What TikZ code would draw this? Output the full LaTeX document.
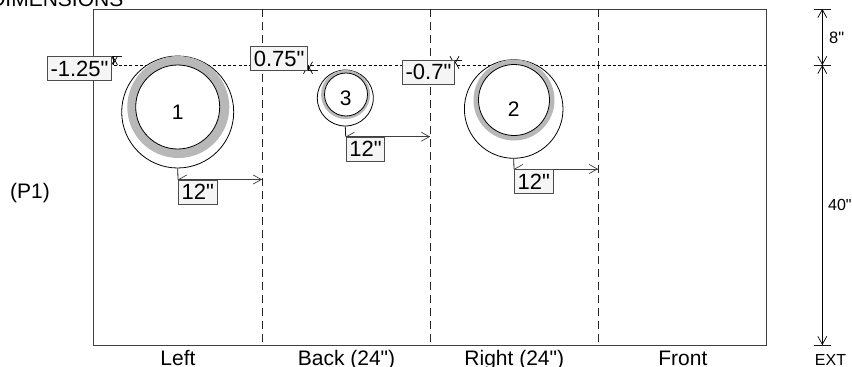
\documentclass[tikz,border=0pt]{standalone}
\usepackage{fontspec}
\setmainfont{Liberation Sans}
\newfontfamily\plainface{Liberation Sans}
\usetikzlibrary{arrows.meta}
\tikzset{
  x=1pt,y=-1pt,
  wire/.style={draw=black!90,line width=0.8pt},
  fold/.style={draw=black!85,line width=0.9pt,dash pattern=on 8pt off 5pt},
  level/.style={draw=black,line width=1.05pt,dash pattern=on 3pt off 2.2pt},
  dimline/.style={draw=black!75,line width=0.8pt,-{Straight Barb[length=8pt,width=9pt,line width=0.7pt]}},
  tag/.style={draw=black!70,fill=black!4,line width=0.9pt,inner sep=0pt,font=\plainface\fontsize{22}{22}\selectfont},
  outerc/.style={circle,draw=black,fill=white,line width=0.8pt,inner sep=0pt},
  bandc/.style={circle,fill=black!28,inner sep=0pt},
  innerc/.style={circle,draw=black,fill=white,line width=0.8pt,inner sep=0pt},
  num/.style={font=\plainface\fontsize{21}{21}\selectfont,inner sep=0pt},
  side/.style={font=\plainface\fontsize{21}{21}\selectfont,inner sep=0pt,anchor=base},
  note/.style={font=\plainface\fontsize{16.5}{16.5}\selectfont,inner sep=0pt,anchor=base west},
}
\begin{document}
\begin{tikzpicture}
\useasboundingbox (0,0) rectangle (852,367);
\clip (0,0) rectangle (852,367);
\fill[white] (0,0) rectangle (852,367);
% panel
\node[draw=black!75,line width=1pt,inner sep=0pt,minimum width=673pt,minimum height=336pt] (panel) at (429.5,177) {};
\coordinate (fa) at (262,9); \coordinate (fb) at (262,345);
\coordinate (ga) at (430,9); \coordinate (gb) at (430,345);
\coordinate (ha) at (598,9); \coordinate (hb) at (598,345);
\draw[fold] (fa) -- (fb);
\draw[fold] (ga) -- (gb);
\draw[fold] (ha) -- (hb);
\coordinate (la) at (93,65.4); \coordinate (lb) at (766,65.4);
\draw[level] (la) -- (lb);
% circles
\node[outerc,minimum size=112pt] (o1) at (177.7,112) {};
\node[bandc,minimum size=102pt] (b1) at (178.3,107) {};
\node[innerc,minimum size=84pt] (c1) at (177.7,107) {};
\node[num] (n1) at (177.7,112.5) {1};
\node[outerc,minimum size=56pt] (o3) at (345.3,98) {};
\node[bandc,minimum size=49pt] (b3) at (345.6,94.5) {};
\node[innerc,minimum size=43pt] (c3) at (346,94.5) {};
\node[num] (n3) at (345.7,98) {3};
\node[outerc,minimum size=98.6pt] (o2) at (513.7,109) {};
\node[bandc,minimum size=81pt] (b2) at (514,100) {};
\node[innerc,minimum size=71pt] (c2) at (514,100) {};
\node[num] (n2) at (513.7,109) {2};
% horizontal 12" dims
\coordinate (d1) at (178,179.5); \coordinate (e1) at (262,179.5);
\coordinate (d3) at (345.7,136.7); \coordinate (e3) at (430,136.7);
\coordinate (d2) at (514,169); \coordinate (e2) at (598,169);
\draw[dimline] (d1) -- (e1);
\draw[dimline] (e1) -- (d1);
\draw[dimline] (d3) -- (e3);
\draw[dimline] (e3) -- (d3);
\draw[dimline] (d2) -- (e2);
\draw[dimline] (e2) -- (d2);
\draw[wire] (o1.south) -- (d1);
\draw[wire] (o3.south) -- (d3);
\draw[wire] (o2.south) -- (d2);
\node[tag,minimum width=38.6pt,minimum height=24pt,anchor=north west] (t1) at (d1) {12"};
\node[tag,minimum width=38.6pt,minimum height=24pt,anchor=north west] (t3) at (d3) {12"};
\node[tag,minimum width=38.6pt,minimum height=24pt,anchor=north west] (t2) at (d2) {12"};
% offset ticks and short dims
\coordinate (k1a) at (104,56.3); \coordinate (k1b) at (122,56.3);
\coordinate (k3a) at (298,70.5); \coordinate (k3b) at (318,70.5);
\coordinate (k2a) at (446,60); \coordinate (k2b) at (462,60);
\draw[wire] (k1a) -- (k1b);
\draw[wire] (k3a) -- (k3b);
\draw[wire] (k2a) -- (k2b);
\coordinate (a1) at (113,65); \coordinate (p1) at (113,56.3);
\coordinate (a3) at (308,65); \coordinate (p3) at (308,70.5);
\coordinate (a2) at (454.5,65); \coordinate (p2) at (454.5,60);
\draw[dimline,draw=black] (a1) -- (p1);
\draw[dimline,draw=black] (p1) -- (a1);
\draw[dimline,draw=black] (a3) -- (p3);
\draw[dimline,draw=black] (p3) -- (a3);
\draw[dimline,draw=black] (a2) -- (p2);
\draw[dimline,draw=black] (p2) -- (a2);
% offset tags
\node[tag,minimum width=64pt,minimum height=24pt] (m1) at (79.5,68.5) {-1.25"};
\node[tag,minimum width=57pt,minimum height=24pt] (m3) at (279.2,58.7) {0.75"};
\node[tag,minimum width=51.6pt,minimum height=24pt] (m2) at (428.5,72) {-0.7"};
% right dim
\coordinate (r0) at (822.3,9); \coordinate (r1) at (822.3,65); \coordinate (r2) at (822.3,345);
\coordinate (q0a) at (814,9); \coordinate (q0b) at (831,9);
\coordinate (q1a) at (814,65); \coordinate (q1b) at (831,65);
\coordinate (q2a) at (814,345); \coordinate (q2b) at (831,345);
\draw[wire] (q0a) -- (q0b);
\draw[wire] (q1a) -- (q1b);
\draw[wire] (q2a) -- (q2b);
\draw[dimline,draw=black] (r1) -- (r0);
\draw[dimline,draw=black] (r0) -- (r1);
\draw[dimline,draw=black] (r2) -- (r1);
\draw[dimline,draw=black] (r1) -- (r2);
% text
\node[note] (n8) at (829,43.5) {8"};
\node[note,font=\plainface\fontsize{16}{16}\selectfont] (n40) at (828,210.5) {40"};
\node[note,font=\plainface\fontsize{16}{16}\selectfont,anchor=base] (next) at (830.5,365.5) {EXT};
\node[side] (s1) at (178,365) {Left};
\node[side] (s2) at (346.5,365) {Back (24")};
\node[side] (s3) at (514.3,365) {Right (24")};
\node[side] (s4) at (682.9,365) {Front};
\node[side] (pp) at (30,198) {(P1)};
\node[side,anchor=base east] (dm) at (123.5,6.5) {DIMENSIONS};
\end{tikzpicture}
\end{document}
